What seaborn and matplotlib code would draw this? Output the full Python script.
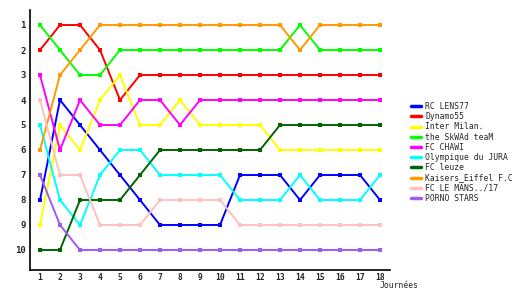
import matplotlib
matplotlib.use("Agg")
import matplotlib.pyplot as plt
import seaborn as sns
import pandas as pd

journees = list(range(1, 19))
teams = ["RC LENS77", "Dynamo55", "Inter Milan.", "the SkWAd teaM", "FC CHAWI",
         "Olympique du JURA", "FC leuze", "Kaisers_Eiffel F.C", "FC LE MANS../17", "PORNO STARS"]
rc_lens77 = [8, 4, 5, 6, 7, 8, 9, 9, 9, 9, 7, 7, 7, 8, 7, 7, 7, 8]
dynamo55 = [2, 1, 1, 2, 4, 3, 3, 3, 3, 3, 3, 3, 3, 3, 3, 3, 3, 3]
inter_milan = [9, 5, 6, 4, 3, 5, 5, 4, 5, 5, 5, 5, 6, 6, 6, 6, 6, 6]
skwad = [1, 2, 3, 3, 2, 2, 2, 2, 2, 2, 2, 2, 2, 1, 2, 2, 2, 2]
fc_chawi = [3, 6, 4, 5, 5, 4, 4, 5, 4, 4, 4, 4, 4, 4, 4, 4, 4, 4]
olympique = [5, 8, 9, 7, 6, 6, 7, 7, 7, 7, 8, 8, 8, 7, 8, 8, 8, 7]
fc_leuze = [10, 10, 8, 8, 8, 7, 6, 6, 6, 6, 6, 6, 5, 5, 5, 5, 5, 5]
kaisers = [6, 3, 2, 1, 1, 1, 1, 1, 1, 1, 1, 1, 1, 2, 1, 1, 1, 1]
le_mans = [4, 7, 7, 9, 9, 9, 8, 8, 8, 8, 9, 9, 9, 9, 9, 9, 9, 9]
porno = [7, 9, 10, 10, 10, 10, 10, 10, 10, 10, 10, 10, 10, 10, 10, 10, 10, 10]
series = [rc_lens77, dynamo55, inter_milan, skwad, fc_chawi, olympique, fc_leuze, kaisers, le_mans, porno]
colors = ["#0000FF", "#FF0000", "#FFFF00", "#00FF00", "#FF00FF",
          "#00FFFF", "#006400", "#FF9900", "#FFC0C0", "#A05AF0"]

rows = []
for t, vals in zip(teams, series):
    for j, v in zip(journees, vals):
        rows.append({"Journée": j, "Rang": v, "Equipe": t})
df = pd.DataFrame(rows)

sns.set_style("white")
plt.rcParams["font.family"] = ["DejaVu Sans Mono"]

fig = plt.figure(figsize=(5.3, 3.0), dpi=100)
ax = fig.add_axes([30/530, 30/300, 360/530, 260/300])

sns.lineplot(data=df, x="Journée", y="Rang", hue="Equipe", hue_order=teams,
             palette=dict(zip(teams, colors)), marker="s", markersize=3,
             markeredgewidth=0, linewidth=1.4, ax=ax, legend=True, estimator=None)

ax.set_xlim(0.5, 18.5)
ax.set_ylim(10.8, 0.4)
ax.set_xticks(journees)
ax.set_xticklabels([str(j) for j in journees], fontsize=5.8, fontweight="bold")
ax.set_yticks(range(1, 11))
ax.set_yticklabels([str(i) for i in range(1, 11)], fontsize=6.5, fontweight="bold")
ax.tick_params(axis="x", length=2, width=1, pad=0.5, color="black")
ax.tick_params(axis="y", length=0, pad=3)
for s in ["top", "right"]:
    ax.spines[s].set_visible(False)
for s in ["left", "bottom"]:
    ax.spines[s].set_color("black")
    ax.spines[s].set_linewidth(1.2)
ax.set_xlabel("")
ax.set_ylabel("")
ax.grid(False)
fig.text(380/530, 1 - 286/300, "Journées", fontsize=5.8, ha="left", va="center")

handles, labels = ax.get_legend_handles_labels()
leg = ax.legend(handles, labels, loc="upper left", bbox_to_anchor=(407/530, 1 - 98/300),
                bbox_transform=fig.transFigure, frameon=False, fontsize=5.8,
                handlelength=1.2, handletextpad=0.55, labelspacing=0.15, borderpad=0)
for h in leg.legend_handles:
    h.set_marker("")
    h.set_linewidth(2.5)

fig.savefig("out.png", dpi=100)
